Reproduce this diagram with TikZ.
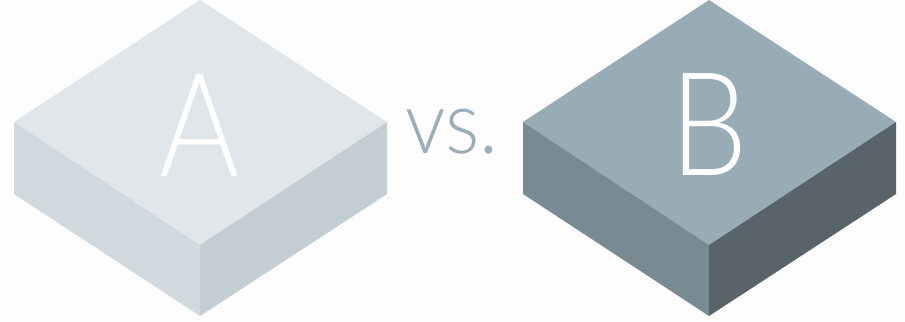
\documentclass[tikz,border=0pt]{standalone}
\usepackage{fontspec}
\setmainfont{Lato}
\newfontfamily\thinfont{Lato}[UprightFont=* Light]
\usepackage{xcolor}
\usepackage{tikz}
\definecolor{atop}{HTML}{E1E6EA}
\definecolor{aleft}{HTML}{D0D9DE}
\definecolor{aright}{HTML}{C3CED4}
\definecolor{btop}{HTML}{98ACB5}
\definecolor{bleft}{HTML}{788A92}
\definecolor{bright}{HTML}{58646A}
\definecolor{vscol}{HTML}{9AAEB8}

\begin{document}
\begin{tikzpicture}
    [x=0.02cm, y=-0.02cm, every node/.style={inner sep=0pt},
     letter/.style={anchor=base, text=white, xscale=0.85, font=\thinfont\fontsize{82}{82}\selectfont}]
    \useasboundingbox[fill=white!98!black!30] (0,0) rectangle (905,321);
    % box A
    \fill[atop] (14,122) -- (200,0) -- (387,122) -- (200,245) -- cycle;
    \fill[aleft] (14,122) -- (200,245) -- (200,316) -- (14,194) -- cycle;
    \fill[aright] (200,245) -- (387,122) -- (387,194) -- (200,316) -- cycle;
    \node[letter] (a) at (200,176) {A};
    % box B
    \fill[btop] (523,122) -- (709,0) -- (896,122) -- (709,245) -- cycle;
    \fill[bleft] (523,122) -- (709,245) -- (709,316) -- (523,194) -- cycle;
    \fill[bright] (709,245) -- (896,122) -- (896,194) -- (709,316) -- cycle;
    \node[letter] (b) at (709,175) {B};
    % label
    \node[anchor=base, text=vscol, xscale=0.92, font=\thinfont\fontsize{50}{50}\selectfont] (vs) at (452,153) {vs.};
\end{tikzpicture}
\end{document}
